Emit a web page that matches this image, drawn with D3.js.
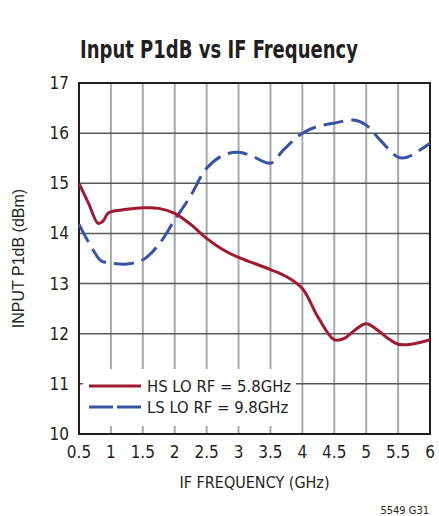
<!doctype html>
<html>
<head>
  <script src="https://d3js.org/d3.v7.min.js"></script>
  <style>
    body { margin:0; background:#fff; }
    text { font-family: "Liberation Sans Narrow", "DejaVu Sans Condensed", "Liberation Sans", sans-serif; }
  </style>
</head>
<body>
  <script>
    // data
    var hsFreq = [0.5, 0.65, 0.8, 0.88, 0.95, 1.0, 1.25, 1.5, 1.75, 2.0, 2.25, 2.5, 2.75, 3.0, 3.25, 3.5, 3.75, 4.0, 4.25, 4.5, 4.65, 4.8, 5.0, 5.2, 5.35, 5.5, 5.7, 6.0];
    var hsP1dB = [15.0, 14.6, 14.2, 14.25, 14.4, 14.43, 14.48, 14.51, 14.5, 14.4, 14.18, 13.9, 13.68, 13.52, 13.4, 13.28, 13.14, 12.9, 12.32, 11.88, 11.9, 12.05, 12.2, 12.05, 11.9, 11.79, 11.79, 11.88];
    var lsFreq = [0.5, 0.72, 0.85, 1.0, 1.25, 1.5, 1.75, 2.0, 2.24, 2.5, 2.76, 3.0, 3.2, 3.5, 3.7, 4.0, 4.23, 4.5, 4.8, 5.0, 5.22, 5.5, 5.64, 6.0];
    var lsP1dB = [14.18, 13.67, 13.45, 13.41, 13.39, 13.47, 13.78, 14.27, 14.73, 15.3, 15.56, 15.62, 15.55, 15.4, 15.66, 16.0, 16.13, 16.2, 16.26, 16.16, 15.86, 15.52, 15.52, 15.8];
    var xTicks = [0.5, 1, 1.5, 2, 2.5, 3, 3.5, 4, 4.5, 5, 5.5, 6];
    var yTicks = [10, 11, 12, 13, 14, 15, 16, 17];
    var seriesNames = ["HS LO RF = 5.8GHz", "LS LO RF = 9.8GHz"];

    var width = 439, height = 516;
    var plotL = 79, plotR = 430, plotT = 83, plotB = 434;

    var svg = d3.select("body").append("svg")
      .attr("width", width)
      .attr("height", height);

    var x = d3.scaleLinear().domain([0.5, 6]).range([plotL, plotR]);
    var y = d3.scaleLinear().domain([10, 17]).range([plotB, plotT]);

    // title
    svg.append("text")
      .attr("x", 80).attr("y", 58)
      .attr("font-size", 24).attr("font-weight", "bold")
      .attr("textLength", 278).attr("lengthAdjust", "spacingAndGlyphs")
      .attr("fill", "#231f20")
      .text("Input P1dB vs IF Frequency");

    // grid
    svg.append("g").selectAll("line").data(xTicks.slice(1, -1)).enter().append("line")
      .attr("x1", function(d){ return x(d); }).attr("x2", function(d){ return x(d); })
      .attr("y1", plotT).attr("y2", plotB)
      .attr("stroke", "#a7a9ac").attr("stroke-width", 2);
    svg.append("g").selectAll("line").data(yTicks.slice(1, -1)).enter().append("line")
      .attr("x1", plotL).attr("x2", plotR)
      .attr("y1", function(d){ return y(d); }).attr("y2", function(d){ return y(d); })
      .attr("stroke", "#58595b").attr("stroke-width", 1.5);

    // legend backdrop
    svg.append("rect")
      .attr("x", 83).attr("y", 369).attr("width", 213).attr("height", 57)
      .attr("fill", "#fff");

    // frame
    svg.append("rect")
      .attr("x", plotL).attr("y", plotT).attr("width", plotR - plotL).attr("height", plotB - plotT)
      .attr("fill", "none").attr("stroke", "#231f20").attr("stroke-width", 2);

    // axes labels
    svg.append("g").selectAll("text").data(xTicks).enter().append("text")
      .attr("x", function(d){ return x(d); }).attr("y", 458)
      .attr("text-anchor", "middle").attr("font-size", 17).attr("fill", "#231f20")
      .text(function(d){ return d; });
    svg.append("g").selectAll("text").data(yTicks).enter().append("text")
      .attr("x", 69).attr("y", function(d){ return y(d) + 6; })
      .attr("text-anchor", "end").attr("font-size", 17).attr("fill", "#231f20")
      .text(function(d){ return d; });

    svg.append("text")
      .attr("x", (plotL + plotR) / 2).attr("y", 488)
      .attr("text-anchor", "middle").attr("font-size", 16).attr("fill", "#231f20")
      .text("IF FREQUENCY (GHz)");
    svg.append("text")
      .attr("transform", "translate(24," + (plotT + plotB) / 2 + ") rotate(-90)")
      .attr("text-anchor", "middle").attr("font-size", 16).attr("fill", "#231f20")
      .style("font-family", "'Liberation Sans', sans-serif")
      .text("INPUT P1dB (dBm)");
    svg.append("text")
      .attr("x", 429).attr("y", 514)
      .attr("text-anchor", "end").attr("font-size", 11).attr("fill", "#231f20")
      .text("5549 G31");

    // curves
    var line = d3.line()
      .x(function(d){ return x(d[0]); })
      .y(function(d){ return y(d[1]); })
      .curve(d3.curveCatmullRom.alpha(0.5));

    var hs = d3.zip(hsFreq, hsP1dB);
    var ls = d3.zip(lsFreq, lsP1dB);

    svg.append("path").datum(ls).attr("d", line)
      .attr("fill", "none").attr("stroke", "#3953a4").attr("stroke-width", 3)
      .attr("stroke-dasharray", "20,8");
    svg.append("path").datum(hs).attr("d", line)
      .attr("fill", "none").attr("stroke", "#9e1b32").attr("stroke-width", 3);

    // legend
    var legend = svg.append("g");
    var colors = ["#9e1b32", "#3953a4"];
    var dashes = [null, "24,4"];
    seriesNames.forEach(function(name, i){
      var ly = 386 + i * 21;
      legend.append("line")
        .attr("x1", 89).attr("x2", 141).attr("y1", ly).attr("y2", ly)
        .attr("stroke", colors[i]).attr("stroke-width", 3)
        .attr("stroke-dasharray", dashes[i]);
      legend.append("text")
        .attr("x", 147).attr("y", ly + 6)
        .attr("font-size", 16.5).attr("fill", "#231f20")
        .text(name);
    });
  </script>
</body>
</html>
